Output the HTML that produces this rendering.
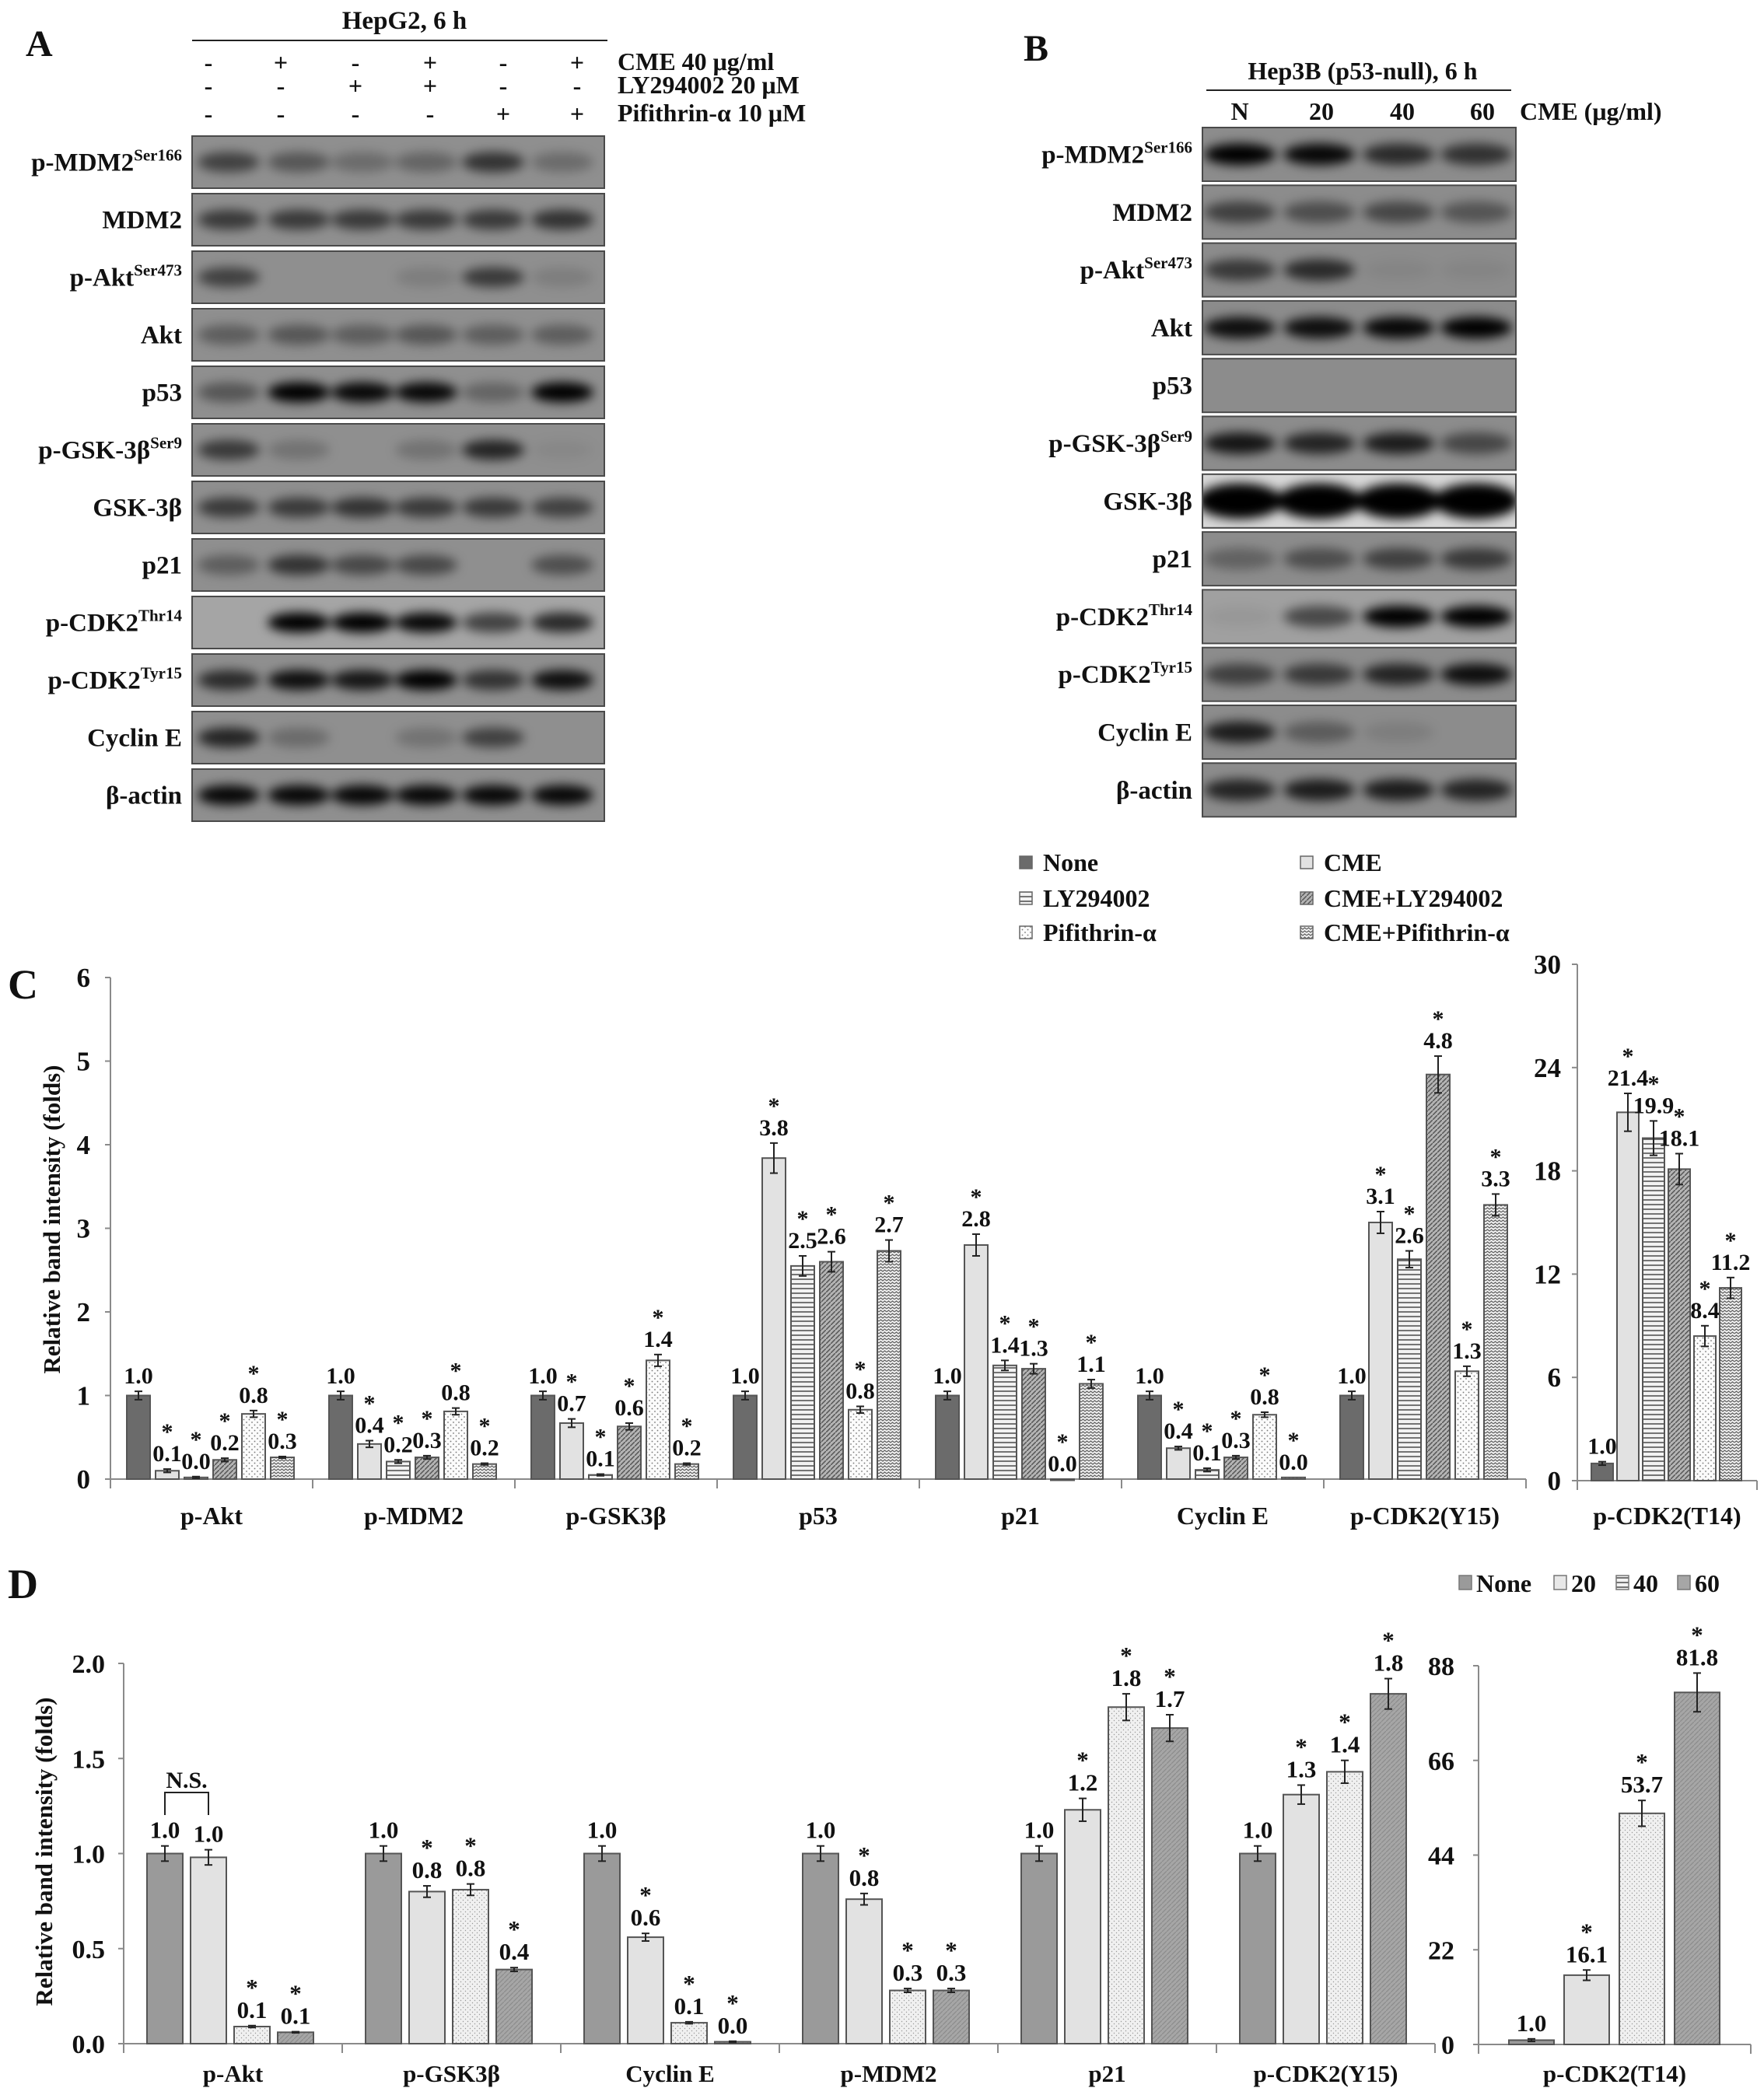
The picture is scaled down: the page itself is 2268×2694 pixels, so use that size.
<!DOCTYPE html>
<html><head><meta charset="utf-8"><style>
html,body{margin:0;padding:0;background:#fff}
svg{display:block}
text{font-family:"Liberation Serif",serif;font-weight:bold;fill:#111}
</style></head><body>
<svg id="fig" xmlns="http://www.w3.org/2000/svg" width="2268" height="2694" viewBox="0 0 2268 2694">
<defs id="defs">
<filter id="blur" x="-30%" y="-60%" width="160%" height="220%"><feGaussianBlur stdDeviation="7"/></filter>
<pattern id="pLY" width="6" height="6" patternUnits="userSpaceOnUse"><rect width="6" height="6" fill="#f2f2f2"/><line x1="0" y1="1" x2="6" y2="1" stroke="#555" stroke-width="1.6"/></pattern>
<pattern id="pDiag" width="6" height="6" patternUnits="userSpaceOnUse"><rect width="6" height="6" fill="#b4b4b4"/><path d="M0,6 L6,0" stroke="#555" stroke-width="1.5"/></pattern>
<pattern id="pDot" width="7" height="7" patternUnits="userSpaceOnUse"><rect width="7" height="7" fill="#fbfbfb"/><circle cx="2" cy="2" r="0.9" fill="#777"/><circle cx="5.5" cy="5.5" r="0.9" fill="#777"/></pattern>
<pattern id="pWave" width="10" height="8" patternUnits="userSpaceOnUse"><rect width="10" height="8" fill="#f4f4f4"/><path d="M0,3 L2.5,1 L5,3 L7.5,1 L10,3" fill="none" stroke="#666" stroke-width="1.3"/><path d="M0,7 L2.5,5 L5,7 L7.5,5 L10,7" fill="none" stroke="#666" stroke-width="1.3"/></pattern>
<pattern id="pD60" width="6" height="6" patternUnits="userSpaceOnUse"><rect width="6" height="6" fill="#a6a6a6"/><path d="M0,6 L6,0" stroke="#8c8c8c" stroke-width="1.2"/></pattern>
<pattern id="pDDot" width="6" height="6" patternUnits="userSpaceOnUse"><rect width="6" height="6" fill="#f0f0f0"/><circle cx="1.5" cy="1.5" r="0.7" fill="#999"/><circle cx="4.5" cy="4.5" r="0.7" fill="#999"/></pattern>
</defs>
<g id="panelA"></g>
<g id="panelB"></g>
<g id="legendC"></g>
<g id="chartC"></g>
<g id="chartD"></g>
</svg>
<script>
// ---------- Panel C data ----------
const cCategories = ["p-Akt","p-MDM2","p-GSK3β","p53","p21","Cyclin E","p-CDK2(Y15)"];
const cSeriesNames = ["None","CME","LY294002","CME+LY294002","Pifithrin-α","CME+Pifithrin-α"];
const cNone   = [1.0,1.0,1.0,1.0,1.0,1.0,1.0];
const cCME    = [0.1,0.42,0.67,3.84,2.8,0.37,3.07];
const cLY     = [0.02,0.21,0.05,2.55,1.36,0.11,2.63];
const cCMELY  = [0.23,0.26,0.63,2.6,1.32,0.26,4.84];
const cPif    = [0.78,0.81,1.42,0.83,0.0,0.77,1.29];
const cCMEPif = [0.26,0.18,0.18,2.73,1.14,0.02,3.28];
const cErrNone   = [0.05,0.05,0.05,0.05,0.05,0.05,0.05];
const cErrCME    = [0.02,0.04,0.05,0.18,0.13,0.02,0.13];
const cErrLY     = [0.01,0.02,0.01,0.12,0.06,0.02,0.1];
const cErrCMELY  = [0.02,0.02,0.04,0.12,0.06,0.02,0.22];
const cErrPif    = [0.04,0.04,0.07,0.04,0.0,0.03,0.06];
const cErrCMEPif = [0.01,0.01,0.01,0.13,0.05,0.0,0.13];
const cStar      = [[0,1,1,1,1,1],[0,1,1,1,1,1],[0,1,1,1,1,1],[0,1,1,1,1,1],[0,1,1,1,1,1],[0,1,1,1,1,1],[0,1,1,1,1,1]];
const cTicks = [0,1,2,3,4,5,6];
const cT14Values = [1.0,21.4,19.9,18.1,8.4,11.2];
const cT14Err    = [0.1,1.1,1.0,0.9,0.6,0.6];
const cT14Ticks  = [0,6,12,18,24,30];

// ---------- Panel D data ----------
const dCategories = ["p-Akt","p-GSK3β","Cyclin E","p-MDM2","p21","p-CDK2(Y15)"];
const dSeriesNames = ["None","20","40","60"];
const dNone = [1.0,1.0,1.0,1.0,1.0,1.0];
const d20   = [0.98,0.8,0.56,0.76,1.23,1.31];
const d40   = [0.09,0.81,0.11,0.28,1.77,1.43];
const d60   = [0.06,0.39,0.01,0.28,1.66,1.84];
const dErrNone = [0.04,0.04,0.04,0.04,0.04,0.04];
const dErr20   = [0.04,0.03,0.02,0.03,0.06,0.05];
const dErr40   = [0.005,0.03,0.005,0.01,0.07,0.06];
const dErr60   = [0.003,0.01,0.003,0.01,0.07,0.08];
const dTicks = [0,0.5,1.0,1.5,2.0];
const dT14Values = [1.0,16.1,53.7,81.8];
const dT14Err    = [0.3,1.2,3.0,4.5];
const dT14Ticks  = [0,22,44,66,88];

const NS="http://www.w3.org/2000/svg";
function el(tag,attrs,parent){const e=document.createElementNS(NS,tag);for(const k in attrs)e.setAttribute(k,attrs[k]);parent.appendChild(e);return e;}
function txt(parent,x,y,s,size,anchor,extra){const t=el('text',Object.assign({x:x,y:y,'font-size':size,'text-anchor':anchor||'middle'},extra||{}),parent);t.textContent=s;return t;}
const defs=document.getElementById('defs');
let clipN=0;
// ---------- Blots ----------
function blotRow(g,label,sup,x,y,w,h,lanes,ints,bg,labelX,bandW,bandH){
  const row=el('g',{},g);
  
  
  const id='clip'+(clipN++);
  const cp=el('clipPath',{id:id},defs);
  el('rect',{x:x,y:y,width:w,height:h},cp);
  el('rect',{x:x,y:y,width:w,height:h,fill:bg},row);
  const inner=el('g',{filter:'url(#blur)','clip-path':'url(#'+id+')'},row);
  const inner2=el('g',{'clip-path':'url(#'+id+')'},row);
  inner2.appendChild(inner);
  row.removeChild(inner2); row.appendChild(inner2);
  inner.removeAttribute('clip-path');
  lanes.forEach((cx,i)=>{ if(ints[i]>0) el('ellipse',{cx:cx,cy:y+h/2,rx:bandW/2,ry:bandH/2,fill:'#000','fill-opacity':ints[i]},inner);});
  el('rect',{x:x,y:y,width:w,height:h,fill:'none',stroke:'#4a4a4a','stroke-width':2},row);
  const t=el('text',{x:labelX,y:y+h/2+11,'font-size':33,'text-anchor':'end'},row);
  t.textContent=label;
  if(sup){const s=el('tspan',{'font-size':21,dy:-13},t);s.textContent=sup;}
}
(function(){
  const g=document.getElementById('panelA');
  txt(g,33,72,'A',48,'start');
  txt(g,520,37,'HepG2, 6 h',33,'middle');
  el('line',{x1:247,y1:52,x2:781,y2:52,stroke:'#222','stroke-width':2},g);
  const signX=[268,361,457,553,647,742];
  const signs=[['-','+','-','+','-','+'],['-','-','+','+','-','-'],['-','-','-','-','+','+']];
  const sy=[91,121,157];
  const names=['CME 40 μg/ml','LY294002 20 μM','Pifithrin-α 10 μM'];
  signs.forEach((r,j)=>{r.forEach((s,i)=>txt(g,signX[i],sy[j],s,32,'middle'));txt(g,794,sy[j]-1,names[j],32,'start');});
  const lanes=[294,384,466,548,634,723];
  const rows=[['p-MDM2','Ser166',[0.55,0.4,0.25,0.3,0.65,0.25]],['MDM2','',[0.6,0.6,0.6,0.6,0.6,0.65]],['p-Akt','Ser473',[0.55,0,0,0.12,0.6,0.12]],['Akt','',[0.35,0.4,0.35,0.4,0.35,0.35]],['p53','',[0.4,1,0.95,0.95,0.3,1]],['p-GSK-3β','Ser9',[0.6,0.2,0,0.2,0.75,0.05]],['GSK-3β','',[0.6,0.6,0.65,0.6,0.6,0.55]],['p21','',[0.35,0.65,0.5,0.5,0,0.45]],['p-CDK2','Thr14',[0,1,1,0.95,0.6,0.75]],['p-CDK2','Tyr15',[0.7,0.9,0.85,1,0.65,0.9]],['Cyclin E','',[0.75,0.25,0,0.2,0.55,0]],['β-actin','',[0.95,0.95,0.95,0.95,0.95,0.95]]];
  rows.forEach((r,i)=>blotRow(g,r[0],r[1],247,175+i*74,530,67,lanes,r[2],i==8?'#a5a5a5':'#8f8f8f',234,80,26));
})();
(function(){
  const g=document.getElementById('panelB');
  txt(g,1316,78,'B',48,'start');
  txt(g,1752,102,'Hep3B (p53-null), 6 h',32,'middle');
  el('line',{x1:1551,y1:116,x2:1943,y2:116,stroke:'#222','stroke-width':2},g);
  [['N',1594],['20',1699],['40',1803],['60',1906]].forEach(a=>txt(g,a[1],154,a[0],32,'middle'));
  txt(g,1954,154,'CME (μg/ml)',32,'start');
  const lanes=[1594,1696,1798,1898];
  const rows=[['p-MDM2','Ser166',[1,0.95,0.7,0.65]],['MDM2','',[0.55,0.45,0.5,0.4]],['p-Akt','Ser473',[0.6,0.7,0.05,0.05]],['Akt','',[0.9,0.9,0.95,1]],['p53','',[0,0,0,0]],['p-GSK-3β','Ser9',[0.85,0.75,0.8,0.5]],['GSK-3β','',[1,1,1,1]],['p21','',[0.3,0.45,0.55,0.6]],['p-CDK2','Thr14',[0.05,0.55,1,1]],['p-CDK2','Tyr15',[0.55,0.6,0.75,0.9]],['Cyclin E','',[0.8,0.35,0.1,0]],['β-actin','',[0.75,0.8,0.8,0.75]]];
  rows.forEach((r,i)=>{const bg=i==6?'#d8d8d8':(i==8?'#a0a0a0':'#8c8c8c');blotRow(g,r[0],r[1],1546,164+i*74.3,403,69,lanes,r[2],bg,1533,i==6?110:92,i==6?46:28);});
})();
// ---------- Legend C ----------
const cFills=['#6b6b6b','#e2e2e2','url(#pLY)','url(#pDiag)','url(#pDot)','url(#pWave)'];
(function(){
  const g=document.getElementById('legendC');
  const pos=[[1311,1110],[1672,1110],[1311,1156],[1672,1156],[1311,1200],[1672,1200]];
  cSeriesNames.forEach((n,i)=>{
    const e=el('g',{},g);
    
    
    el('rect',{x:pos[i][0],y:pos[i][1]-9,width:16,height:16,fill:cFills[i],stroke:'#666','stroke-width':1.5},e);
    txt(e,pos[i][0]+30,pos[i][1]+10,n,32,'start');
  });
})();
// ---------- Generic bar drawer ----------
function drawBars(g,opt){
  const yS=v=>opt.y0-(v/opt.vmax)*(opt.y0-opt.ytop);
  el('line',{x1:opt.x0,y1:opt.ytop,x2:opt.x0,y2:opt.y0,stroke:'#8a8a8a','stroke-width':2},g);
  el('line',{x1:opt.x0,y1:opt.y0,x2:opt.x1,y2:opt.y0,stroke:'#8a8a8a','stroke-width':2},g);
  opt.ticks.forEach(t=>{const y=yS(t);el('line',{x1:opt.x0-7,y1:y,x2:opt.x0,y2:y,stroke:'#8a8a8a','stroke-width':2},g);
    const tl=txt(g,opt.tickX,y+12,opt.tickFmt(t),opt.fs+3,'end');
    
    });
  const nG=opt.cats.length;
  for(let i=0;i<=nG;i++){const x=opt.x0+i*opt.gw;el('line',{x1:x,y1:opt.y0,x2:x,y2:opt.y0+12,stroke:'#8a8a8a','stroke-width':2},g);}
  opt.cats.forEach((c,ci)=>{
    const cl=txt(g,opt.x0+ci*opt.gw+opt.gw/2,opt.catY,c,opt.fs,'middle');
    
    
    opt.series.forEach((s,si)=>{
      const v=s[ci],err=opt.errs[si][ci];
      const x=opt.x0+ci*opt.gw+opt.off+si*opt.pitch;
      const yt=yS(v);
      const b=el('rect',{x:x,y:yt,width:opt.bw,height:Math.max(opt.y0-yt,1.5),fill:opt.fills[si],stroke:'#555','stroke-width':2},g);
      
      
      const cx=x+opt.bw/2;
      let top=yt;
      if(err>0){const ya=yS(v+err),yb=yS(Math.max(v-err,0));top=ya;
        el('line',{x1:cx,y1:ya,x2:cx,y2:yb,stroke:'#222','stroke-width':2},g);
        el('line',{x1:cx-5,y1:ya,x2:cx+5,y2:ya,stroke:'#222','stroke-width':2},g);
        el('line',{x1:cx-5,y1:yb,x2:cx+5,y2:yb,stroke:'#222','stroke-width':2},g);}
      const vl=txt(g,cx,top-10,v.toFixed(1),opt.vfs,'middle');
      
      
      if(opt.star(si,ci)){txt(g,cx,top-opt.vfs-8,'*',opt.vfs,'middle');}
    });
  });
}
// ---------- Chart C ----------
(function(){
  const g=document.getElementById('chartC');
  txt(g,10,1284,'C',54,'start');
  const yt=el('text',{x:0,y:0,'font-size':31,'text-anchor':'middle',transform:'translate(77,1568) rotate(-90)'},g);
  yt.textContent='Relative band intensity (folds)';
  
  
  drawBars(g,{x0:142,x1:1962,y0:1902,ytop:1257,vmax:6,ticks:cTicks,tickFmt:t=>String(t),tickX:116,cats:cCategories,gw:260,off:21,pitch:37,bw:30,
    series:[cNone,cCME,cLY,cCMELY,cPif,cCMEPif],errs:[cErrNone,cErrCME,cErrLY,cErrCMELY,cErrPif,cErrCMEPif],fills:cFills,catY:1960,fs:32,vfs:30,
    star:(si,ci)=>cStar[ci][si]===1});
  drawBars(g,{x0:2028,x1:2259,y0:1904,ytop:1240,vmax:30,ticks:cT14Ticks,tickFmt:t=>String(t),tickX:2007,cats:['p-CDK2(T14)'],gw:231,off:18,pitch:33,bw:28,
    series:cT14Values.map(v=>[v]),errs:cT14Err.map(v=>[v]),fills:cFills,catY:1960,fs:32,vfs:30,star:(si)=>si>0});
})();
// ---------- Chart D ----------
const dFills=['#9a9a9a','#e2e2e2','url(#pDDot)','url(#pD60)'];
(function(){
  const g=document.getElementById('chartD');
  txt(g,10,2055,'D',54,'start');
  const yt=el('text',{x:0,y:0,'font-size':31,'text-anchor':'middle',transform:'translate(67,2381) rotate(-90)'},g);
  yt.textContent='Relative band intensity (folds)';
  
  
  const lx=[1876,1998,2078,2157],ll=['None','20','40','60'],lf=['#9a9a9a','#e8e8e8','url(#pLY)','#a6a6a6'];
  ll.forEach((n,i)=>{const e=el('g',{},g);
    
    
    el('rect',{x:lx[i],y:2026,width:16,height:18,fill:lf[i],stroke:'#777','stroke-width':1.5},e);
    txt(e,lx[i]+22,2047,n,32,'start');});
  drawBars(g,{x0:159,x1:1845,y0:2628,ytop:2139,vmax:2,ticks:dTicks,tickFmt:t=>t.toFixed(1),tickX:135,cats:dCategories,gw:281,off:30,pitch:56,bw:46,
    series:[dNone,d20,d40,d60],errs:[dErrNone,dErr20,dErr40,dErr60],fills:dFills,catY:2677,fs:31,vfs:31,
    star:(si,ci)=>si>0&&!(ci===0&&si===1)});
  drawBars(g,{x0:1901,x1:2251,y0:2629,ytop:2142,vmax:88,ticks:dT14Ticks,tickFmt:t=>String(t),tickX:1870,cats:['p-CDK2(T14)'],gw:350,off:39,pitch:71,bw:58,
    series:dT14Values.map(v=>[v]),errs:dT14Err.map(v=>[v]),fills:dFills,catY:2677,fs:31,vfs:31,star:(si)=>si>0});
  const ns=el('g',{},g);
  
  
  el('path',{d:'M212,2334 L212,2305 L268,2305 L268,2334',fill:'none',stroke:'#222','stroke-width':2},ns);
  txt(ns,240,2299,'N.S.',30,'middle');
})();
</script>
</body></html>
